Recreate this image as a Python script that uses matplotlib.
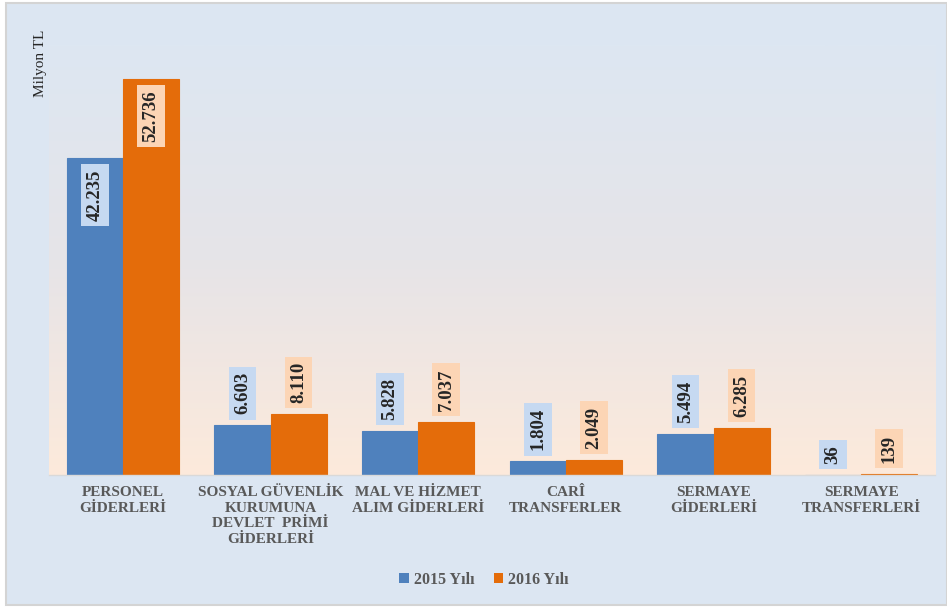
import matplotlib
matplotlib.use("Agg")
import matplotlib.pyplot as plt
import numpy as np
from matplotlib.patches import Rectangle, Patch
from matplotlib.colors import LinearSegmentedColormap

categories = ["PERSONEL\nGİDERLERİ",
              "SOSYAL GÜVENLİK\nKURUMUNA\nDEVLET  PRİMİ\nGİDERLERİ",
              "MAL VE HİZMET\nALIM GİDERLERİ",
              "CARÎ\nTRANSFERLER",
              "SERMAYE\nGİDERLERİ",
              "SERMAYE\nTRANSFERLERİ"]
values_2015 = [42235, 6603, 5828, 1804, 5494, 36]
values_2016 = [52736, 8110, 7037, 2049, 6285, 139]
labels_2015 = ["42.235", "6.603", "5.828", "1.804", "5.494", "36"]
labels_2016 = ["52.736", "8.110", "7.037", "2.049", "6.285", "139"]
series_names = ["2015 Yılı", "2016 Yılı"]

BLUE = "#4f81bd"
ORANGE = "#e46c0a"
BLUE_BOX = "#c6d9f1"
ORANGE_BOX = "#fcd5b5"
SERIF = ["Liberation Serif", "DejaVu Serif"]

W, H = 947, 607
fig = plt.figure(figsize=(W / 100, H / 100), dpi=100)
fig.patch.set_facecolor("white")

# outer chart area with border
fig.patches.append(Rectangle((6 / W, 1 - 605 / H), (W - 6) / W, (605 - 3) / H,
                             transform=fig.transFigure, facecolor="#dce6f2",
                             edgecolor="#d4d4d4", linewidth=1.5, zorder=-10))

left, right, top, bottom = 49, 935, 45, 475
ax = fig.add_axes([left / W, 1 - bottom / H, (right - left) / W, (bottom - top) / H])
ax.set_facecolor("none")

# gradient plot area (light blue at top -> peach at bottom)
cmap = LinearSegmentedColormap.from_list("g", ["#dde7f2", "#e6e4e8", "#fdeadb"])
grad = np.linspace(0, 1, 256).reshape(-1, 1)
ax.imshow(grad, extent=[0, 1, 0, 1], transform=ax.transAxes, aspect="auto",
          cmap=cmap, zorder=0, origin="upper")

x = np.arange(len(categories))
bw = 0.38
b1 = ax.bar(x - bw / 2, values_2015, bw, color=BLUE, edgecolor=BLUE, linewidth=0.8,
            zorder=2, label=series_names[0])
b2 = ax.bar(x + bw / 2, values_2016, bw, color=ORANGE, edgecolor=ORANGE, linewidth=0.8,
            zorder=2, label=series_names[1])

ax.set_xlim(-0.5, len(categories) - 0.5)
ax.set_ylim(0, 57300)

ymax = max(values_2016)
for bars, vals, labs, boxc in [(b1, values_2015, labels_2015, BLUE_BOX),
                               (b2, values_2016, labels_2016, ORANGE_BOX)]:
    for i, (b, v, lab) in enumerate(zip(bars, vals, labs)):
        cx = b.get_x() + b.get_width() / 2
        inside = v > 0.5 * ymax * 0.75
        kw = dict(rotation=90, ha="center", fontsize=13.5, fontweight="bold",
                  family=SERIF, color="#262626", textcoords="offset points",
                  bbox=dict(boxstyle="square,pad=0.28", fc=boxc, ec="none"),
                  zorder=5)
        if inside:
            ax.annotate(lab, (cx, v), xytext=(0, -8), va="top", **kw)
        else:
            ax.annotate(lab, (cx, v), xytext=(0, 8), va="bottom", **kw)

for s in ["top", "left", "right"]:
    ax.spines[s].set_visible(False)
ax.spines["bottom"].set_color("#d9d9d9")
ax.spines["bottom"].set_linewidth(1.0)
ax.spines["bottom"].set_zorder(3)
ax.set_yticks([])
ax.set_xticks(x)
ax.set_xticklabels(categories, fontsize=11, fontweight="bold", family=SERIF,
                   color="#595959", linespacing=1.25)
ax.tick_params(axis="x", length=0, pad=8)

fig.text(40 / W, 1 - 30 / H, "Milyon TL", rotation=90, ha="center", va="top",
         fontsize=11, family=SERIF, color="#262626")

handles = [Patch(facecolor=BLUE, label=series_names[0]),
           Patch(facecolor=ORANGE, label=series_names[1])]
leg = fig.legend(handles=handles, loc="center", bbox_to_anchor=(484 / W, 1 - 580 / H),
                 ncol=2, frameon=False, handlelength=0.6, handleheight=0.6,
                 handletextpad=0.3, columnspacing=1.2,
                 prop={"family": SERIF, "weight": "bold", "size": 11.5})
for t in leg.get_texts():
    t.set_color("#595959")

fig.savefig("out.png", dpi=100, facecolor=fig.get_facecolor())
